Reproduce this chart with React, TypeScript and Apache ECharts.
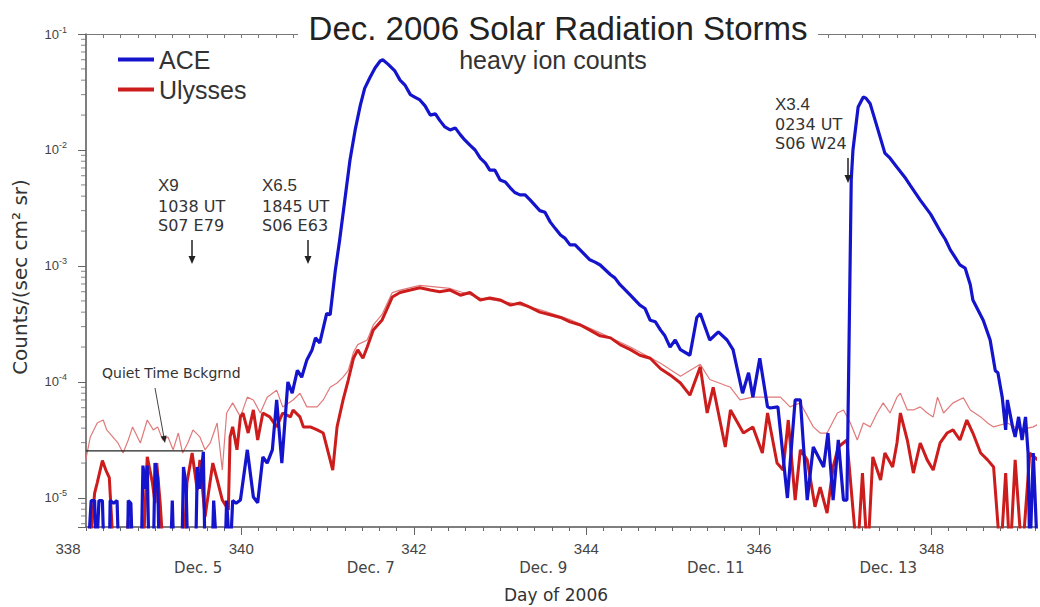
import React, { useEffect, useRef } from 'react';
import * as echarts from 'echarts';

const FONT = '"Liberation Sans", Arial, Helvetica, sans-serif';
const WIDE = '"DejaVu Sans", Verdana, sans-serif';

// ---------- data (day of 2006, counts/(sec cm^2 sr)) ----------
const aceCounts: [number, number][] = [
  [338.22, 3e-6], [338.26, 9.5e-6], [338.3, 9.5e-6], [338.32, 3e-6], [338.35, 9.5e-6], [338.39, 9.5e-6],
  [338.41, 3e-6], [338.47, 3e-6], [338.48, 9.5e-6], [338.52, 9e-6], [338.56, 9.5e-6], [338.58, 3e-6],
  [338.68, 3e-6], [338.69, 9.5e-6], [338.72, 9e-6], [338.74, 3e-6], [338.84, 3e-6], [338.86, 1.9e-5],
  [338.89, 1.2e-5], [338.91, 1.9e-5], [338.93, 3e-6], [338.98, 3e-6], [339.0, 2e-5], [339.03, 1.5e-5],
  [339.05, 3e-6], [339.18, 3e-6], [339.2, 9.5e-6], [339.22, 3e-6], [339.31, 3e-6], [339.33, 1.85e-5],
  [339.36, 1.3e-5], [339.38, 3e-6], [339.47, 3e-6], [339.49, 1.85e-5], [339.52, 1.2e-5], [339.56, 2.5e-5],
  [339.58, 3e-6], [339.66, 3e-6], [339.68, 9.5e-6], [339.72, 3e-6], [339.81, 3e-6], [339.83, 9.5e-6],
  [339.87, 3e-6], [339.9, 9.5e-6], [339.94, 9e-6],
  [339.99, 9.6e-6], [340.07, 2.6e-5], [340.14, 1.02e-5], [340.19, 9.1e-6], [340.25, 2.26e-5], [340.3, 2.0e-5],
  [340.36, 2.6e-5], [340.41, 7.0e-5], [340.47, 2.0e-5], [340.54, 1.0e-4], [340.59, 8.0e-5], [340.65, 1.26e-4],
  [340.7, 1.1e-4], [340.76, 1.55e-4], [340.82, 1.89e-4], [340.86, 2.4e-4], [340.91, 2.17e-4], [340.99, 3.9e-4],
  [341.03, 3.8e-4], [341.09, 9.2e-4], [341.14, 1.67e-3], [341.2, 3.7e-3], [341.26, 8.2e-3], [341.32, 0.0149],
  [341.38, 0.0244], [341.43, 0.034], [341.49, 0.042], [341.55, 0.051], [341.61, 0.0585], [341.64, 0.06],
  [341.7, 0.055], [341.78, 0.048], [341.84, 0.04], [341.9, 0.036], [341.96, 0.03], [342.01, 0.0286],
  [342.07, 0.027], [342.13, 0.024], [342.19, 0.02], [342.25, 0.0205], [342.3, 0.018], [342.36, 0.0158],
  [342.42, 0.0149], [342.48, 0.0155], [342.54, 0.0135], [342.59, 0.0122], [342.65, 0.011], [342.71, 0.01],
  [342.77, 0.0085], [342.83, 0.0077], [342.88, 0.0067], [342.94, 0.0067], [343.0, 0.0055], [343.06, 0.0053],
  [343.12, 0.0047], [343.17, 0.0043], [343.23, 0.0041], [343.29, 0.0041], [343.35, 0.0037], [343.46, 0.003],
  [343.52, 0.0029], [343.58, 0.0024], [343.64, 0.0021], [343.7, 0.00185], [343.75, 0.00174], [343.81, 0.00152],
  [343.87, 0.00152], [343.93, 0.00137], [344.04, 0.00113], [344.1, 0.00108], [344.16, 0.00102], [344.28, 8.4e-4],
  [344.33, 7.9e-4], [344.39, 6.9e-4], [344.51, 5.6e-4], [344.62, 4.6e-4], [344.68, 4.3e-4], [344.74, 3.4e-4],
  [344.8, 3.3e-4], [344.86, 2.8e-4], [344.91, 2.5e-4], [344.97, 2.0e-4], [345.03, 2.3e-4], [345.09, 1.9e-4],
  [345.2, 1.7e-4], [345.28, 3.6e-4], [345.32, 3.9e-4], [345.43, 2.3e-4], [345.53, 2.7e-4], [345.63, 2.3e-4],
  [345.7, 1.9e-4], [345.81, 8.0e-5], [345.88, 1.2e-4], [345.93, 7.4e-5], [346.01, 1.6e-4], [346.1, 6.1e-5],
  [346.13, 5.97e-5], [346.22, 6.1e-5], [346.33, 1.0e-5], [346.42, 7.0e-5], [346.48, 7.0e-5], [346.56, 9.6e-6],
  [346.63, 2.75e-5], [346.75, 1.85e-5], [346.8, 3.63e-5], [346.86, 9.6e-6], [346.92, 3.16e-5], [346.98, 9.6e-6],
  [347.02, 9.6e-6], [347.07, 5.5e-3], [347.09, 0.01], [347.15, 0.0235], [347.21, 0.0286], [347.24, 0.028],
  [347.29, 0.025], [347.38, 0.0149], [347.46, 0.0094], [347.52, 0.0085], [347.6, 0.0071], [347.7, 0.0057],
  [347.75, 0.005], [347.87, 0.0037], [347.99, 0.0028], [348.1, 0.002], [348.16, 0.0017], [348.22, 0.00137],
  [348.28, 0.00117], [348.33, 0.00102], [348.39, 9.6e-4], [348.45, 6.9e-4], [348.48, 5.1e-4], [348.6, 3.4e-4],
  [348.68, 2.3e-4], [348.74, 1.25e-4], [348.77, 1.2e-4], [348.82, 7.4e-5], [348.86, 3.86e-5], [348.88, 7.0e-5],
  [348.94, 4.1e-5], [348.97, 3.36e-5], [349.01, 5.0e-5], [349.05, 3.16e-5], [349.09, 5.0e-5], [349.12, 2.44e-5],
  [349.14, 3e-6], [349.18, 2.44e-5], [349.23, 3e-6],
];

const ulyssesCounts: [number, number][] = [
  [338.22, 3e-6], [338.27, 6.1e-6], [338.3, 1.1e-5], [338.33, 1.35e-5], [338.39, 2.1e-5], [338.43, 1.74e-5],
  [338.47, 1.5e-5], [338.5, 6e-6], [338.52, 3e-6], [338.66, 3e-6], [338.69, 6.5e-6], [338.72, 3e-6],
  [338.86, 3e-6], [338.91, 2.26e-5], [338.97, 1.35e-5], [339.0, 9e-6], [339.02, 2.0e-5], [339.06, 9e-6],
  [339.1, 3e-6], [339.33, 3e-6], [339.37, 1.35e-5], [339.43, 2.44e-5], [339.49, 1.17e-5], [339.52, 2.13e-5],
  [339.58, 6.9e-6], [339.67, 2.0e-5], [339.73, 1.35e-5], [339.78, 9.6e-6], [339.85, 7.9e-6], [339.87, 3.36e-5],
  [339.9, 4.1e-5], [339.95, 2.6e-5], [339.99, 5.0e-5], [340.02, 5.4e-5], [340.08, 3.63e-5], [340.14, 5.74e-5],
  [340.19, 3.16e-5], [340.25, 5.4e-5], [340.33, 5.0e-5], [340.41, 4.1e-5], [340.48, 5.4e-5], [340.57, 5.0e-5],
  [340.6, 5.74e-5], [340.68, 5.0e-5], [340.72, 4.1e-5], [340.8, 4.1e-5], [340.88, 3.86e-5], [340.95, 3.63e-5],
  [341.03, 2.13e-5], [341.06, 1.74e-5], [341.11, 4.1e-5], [341.18, 7.0e-5], [341.24, 1.04e-4], [341.3, 1.6e-4],
  [341.35, 1.89e-4], [341.41, 1.6e-4], [341.46, 2.0e-4], [341.53, 2.8e-4], [341.63, 3.4e-4], [341.75, 5.4e-4],
  [341.84, 5.9e-4], [341.96, 6.2e-4], [342.07, 6.5e-4], [342.19, 6.2e-4], [342.3, 6.0e-4], [342.42, 6.2e-4],
  [342.54, 5.6e-4], [342.65, 5.9e-4], [342.77, 5.1e-4], [342.88, 5.3e-4], [343.0, 5.1e-4], [343.12, 4.6e-4],
  [343.23, 4.8e-4], [343.35, 4.4e-4], [343.46, 4.0e-4], [343.58, 3.8e-4], [343.7, 3.6e-4], [343.81, 3.3e-4],
  [343.93, 3.1e-4], [344.04, 2.8e-4], [344.16, 2.5e-4], [344.28, 2.4e-4], [344.39, 2.1e-4], [344.51, 1.9e-4],
  [344.62, 1.7e-4], [344.74, 1.6e-4], [344.86, 1.3e-4], [344.97, 1.15e-4], [345.09, 9.8e-5], [345.2, 7.7e-5],
  [345.32, 1.35e-4], [345.4, 5.4e-5], [345.47, 9.0e-5], [345.61, 2.75e-5], [345.67, 5.74e-5], [345.82, 3.63e-5],
  [345.93, 4.1e-5], [346.04, 2.44e-5], [346.1, 5.4e-5], [346.21, 2.0e-5], [346.28, 1.74e-5], [346.34, 4.7e-5],
  [346.42, 9.6e-6], [346.48, 2.6e-5], [346.56, 2.13e-5], [346.65, 8.4e-6], [346.71, 1.24e-5], [346.79, 7.4e-6],
  [346.86, 1.85e-5], [346.92, 2.75e-5], [347.02, 3.16e-5], [347.14, 3e-6], [347.2, 1.64e-5], [347.26, 3e-6],
  [347.32, 2.26e-5], [347.41, 1.43e-5], [347.46, 2.44e-5], [347.55, 1.85e-5], [347.6, 2.98e-5], [347.64, 5.4e-5],
  [347.72, 3.16e-5], [347.79, 1.64e-5], [347.87, 2.98e-5], [347.95, 2.13e-5], [348.02, 1.74e-5], [348.1, 2.98e-5],
  [348.18, 3.63e-5], [348.25, 3.86e-5], [348.33, 3.16e-5], [348.41, 4.7e-5], [348.48, 3.63e-5], [348.57, 2.44e-5],
  [348.65, 2.13e-5], [348.72, 1.85e-5], [348.8, 3e-6], [348.86, 1.64e-5], [348.91, 3e-6], [348.97, 2.13e-5],
  [349.05, 3e-6], [349.14, 2.44e-5], [349.23, 2.13e-5],
];

const ulyssesThinCounts: [number, number][] = [
  [338.19, 2.0e-5], [338.25, 3.36e-5], [338.33, 4.43e-5], [338.4, 4.7e-5], [338.44, 3.86e-5], [338.51, 3.36e-5],
  [338.57, 2.98e-5], [338.63, 2.44e-5], [338.69, 3.16e-5], [338.74, 4.1e-5], [338.83, 2.98e-5], [338.91, 4.7e-5],
  [338.98, 3.86e-5], [339.03, 4.1e-5], [339.09, 3.16e-5], [339.15, 3.36e-5], [339.21, 2.6e-5], [339.27, 3.63e-5],
  [339.32, 2.44e-5], [339.38, 2.98e-5], [339.44, 3.86e-5], [339.52, 3.36e-5], [339.58, 2.6e-5], [339.64, 2.98e-5],
  [339.72, 4.43e-5], [339.78, 1.74e-5], [339.83, 5.4e-5], [339.9, 6.6e-5], [339.99, 5.0e-5], [340.07, 7.4e-5],
  [340.14, 7.0e-5], [340.22, 5.4e-5], [340.3, 7.4e-5], [340.41, 8.5e-5], [340.48, 6.1e-5], [340.6, 7.0e-5],
  [340.68, 8.0e-5], [340.76, 6.1e-5], [340.88, 6.1e-5], [340.95, 7.0e-5], [341.03, 9.0e-5], [341.11, 9.8e-5],
  [341.18, 1.1e-4], [341.24, 1.26e-4], [341.3, 1.8e-4], [341.35, 2.1e-4], [341.46, 2.3e-4], [341.53, 3.1e-4],
  [341.63, 3.8e-4], [341.75, 5.9e-4], [341.84, 6.2e-4], [342.07, 6.8e-4], [342.42, 6.4e-4], [342.77, 5.3e-4],
  [343.12, 4.8e-4], [343.46, 4.2e-4], [343.81, 3.45e-4], [344.16, 2.65e-4], [344.51, 2.0e-4], [344.86, 1.45e-4],
  [345.09, 1.12e-4], [345.32, 1.42e-4], [345.43, 1.05e-4], [345.67, 9.0e-5], [345.78, 7.0e-5], [345.93, 7.4e-5],
  [346.1, 7.4e-5], [346.25, 7.4e-5], [346.36, 6.1e-5], [346.48, 6.6e-5], [346.63, 4.1e-5], [346.71, 3.63e-5],
  [346.79, 3.63e-5], [346.91, 5.4e-5], [346.98, 5.74e-5], [347.06, 4.43e-5], [347.14, 3.16e-5], [347.21, 4.43e-5],
  [347.29, 4.1e-5], [347.37, 5.4e-5], [347.44, 6.6e-5], [347.52, 5.4e-5], [347.6, 7.4e-5], [347.64, 8.0e-5],
  [347.72, 5.74e-5], [347.79, 5.74e-5], [347.87, 6.1e-5], [347.95, 5.4e-5], [348.02, 5.0e-5], [348.07, 7.4e-5],
  [348.14, 5.4e-5], [348.25, 6.6e-5], [348.37, 7.3e-5], [348.45, 5.74e-5], [348.57, 5.0e-5], [348.65, 4.43e-5],
  [348.72, 4.1e-5], [348.88, 4.43e-5], [349.03, 3.86e-5], [349.18, 4.1e-5], [349.26, 4.43e-5],
];

const quietBackground: [number, number][] = [[338.2, 2.55e-5], [339.56, 2.55e-5]];

const dayTicks = [340, 342, 344, 346, 348];
const dateLabelDays = [339.5, 341.5, 343.5, 345.5, 347.5];
const dateLabels = ['Dec. 5', 'Dec. 7', 'Dec. 9', 'Dec. 11', 'Dec. 13'];
const yMinorTicks = [
  6e-6, 7e-6, 8e-6, 9e-6,
  2e-5, 3e-5, 4e-5, 5e-5, 6e-5, 7e-5, 8e-5, 9e-5,
  2e-4, 3e-4, 4e-4, 5e-4, 6e-4, 7e-4, 8e-4, 9e-4,
  2e-3, 3e-3, 4e-3, 5e-3, 6e-3, 7e-3, 8e-3, 9e-3,
  2e-2, 3e-2, 4e-2, 5e-2, 6e-2, 7e-2, 8e-2, 9e-2,
];

const X_MIN = 338.2;
const X_MAX = 349.2;
const Y_MIN = 5.62e-6;
const Y_MAX = 0.1;

const TEXT = '#333';

function txt(x: number, y: number, text: string, size: number, align = 'left', extra: any = {}) {
  return {
    type: 'text', x, y, z: 60,
    style: { text, fontSize: size, fontFamily: FONT, fill: TEXT, align, verticalAlign: 'middle', ...extra },
  };
}

function downArrow(x: number, y1: number, y2: number) {
  return [
    { type: 'line', z: 60, shape: { x1: x, y1, x2: x, y2: y2 - 6 }, style: { stroke: '#222', lineWidth: 1.5 } },
    { type: 'polygon', z: 60, shape: { points: [[x - 3.5, y2 - 8], [x + 3.5, y2 - 8], [x, y2]] }, style: { fill: '#222' } },
  ];
}

export default function App() {
  const ref = useRef<HTMLDivElement>(null);

  useEffect(() => {
    document.body.style.margin = '0';
    if (!ref.current) return;
    const chart = echarts.init(ref.current, undefined, { renderer: 'svg' });

    const lineBase = { type: 'line', showSymbol: false, symbol: 'none', clip: true, silent: true };

    const option: any = {
      animation: false,
      textStyle: { fontFamily: FONT },
      grid: { left: 86, right: 5, top: 34, bottom: 80 },
      legend: {
        data: ['ACE', 'Ulysses'],
        orient: 'vertical', left: 118, top: 47, itemGap: 5, padding: 0,
        icon: 'rect', itemWidth: 36, itemHeight: 4,
        textStyle: { fontSize: 25, color: TEXT, fontFamily: FONT },
        selectedMode: false,
      },
      xAxis: [
        {
          type: 'value', min: X_MIN, max: X_MAX, interval: 0.2, position: 'bottom',
          axisLine: { show: true, lineStyle: { color: '#555', width: 1.5 } },
          axisTick: { show: true, length: 4, lineStyle: { color: '#666' } },
          axisLabel: {
            customValues: [X_MIN, ...dayTicks], margin: 14, fontSize: 15, color: '#444', fontFamily: FONT,
            formatter: (v: number) => (Math.abs(v - X_MIN) < 1e-6 ? '{s|338}' : String(Math.round(v))),
            rich: { s: { fontSize: 15, color: '#444', fontFamily: FONT, padding: [0, 36, 0, 0] } },
          },
          splitLine: { show: false },
        },
        {
          type: 'value', min: X_MIN, max: X_MAX, position: 'bottom',
          axisLine: { show: false },
          axisTick: { show: true, customValues: dayTicks, length: 8, lineStyle: { color: '#666' } },
          axisLabel: {
            customValues: dateLabelDays, margin: 33, fontSize: 15, color: '#444', fontFamily: WIDE,
            formatter: (v: number) => {
              const i = dateLabelDays.findIndex((d) => Math.abs(d - v) < 1e-6);
              return i >= 0 ? dateLabels[i] : '';
            },
          },
          splitLine: { show: false },
        },
        {
          type: 'value', min: X_MIN, max: X_MAX, interval: 0.2, position: 'top',
          axisLine: { show: true, lineStyle: { color: '#777', width: 1 } },
          axisTick: { show: true, inside: true, length: 4, lineStyle: { color: '#777' } },
          axisLabel: { show: false },
          splitLine: { show: false },
        },
      ],
      yAxis: [
        {
          type: 'log', logBase: 10, min: Y_MIN, max: Y_MAX,
          axisLine: { show: true, lineStyle: { color: '#555', width: 1.5 } },
          axisTick: { show: true, length: 8, lineStyle: { color: '#666' } },
          axisLabel: {
            margin: 19, color: '#444', fontFamily: FONT,
            formatter: (v: number) => {
              const e = Math.log10(v);
              const r = Math.round(e);
              if (Math.abs(e - r) > 1e-4) return '';
              return `{b|10}{s|${r}}`;
            },
            rich: {
              b: { fontSize: 13, color: '#444', fontFamily: FONT, lineHeight: 18 },
              s: { fontSize: 9, color: '#444', fontFamily: FONT, verticalAlign: 'top', lineHeight: 18, padding: [0, 0, 8, 0] },
            },
          },
          splitLine: { show: false },
        },
      ],
      series: [
        {
          name: 'y minor ticks', type: 'scatter', xAxisIndex: 0, silent: true, clip: false,
          symbol: 'rect', symbolSize: [5, 1], symbolOffset: [-2.5, 0],
          itemStyle: { color: '#666' },
          data: yMinorTicks.map((v) => [X_MIN, v]),
          z: 5,
        },
        {
          ...lineBase, name: 'Ulysses (thin)', data: ulyssesThinCounts,
          lineStyle: { color: '#e07a7a', width: 1.2 }, itemStyle: { color: '#e07a7a' }, z: 2,
        },
        {
          ...lineBase, name: 'Ulysses', data: ulyssesCounts,
          lineStyle: { color: '#cc1c1c', width: 3 }, itemStyle: { color: '#cc1c1c' }, z: 3,
        },
        {
          ...lineBase, name: 'ACE', data: aceCounts,
          lineStyle: { color: '#1414cc', width: 3.2 }, itemStyle: { color: '#1414cc' }, z: 4,
        },
        {
          ...lineBase, name: 'Quiet Time Background', data: quietBackground,
          lineStyle: { color: '#222', width: 1.3 }, itemStyle: { color: '#222' }, z: 5,
        },
      ],
      graphic: [
        { type: 'rect', z: 50, shape: { x: 298, y: 10, width: 520, height: 34 }, style: { fill: '#fff' } },
        txt(558, 28, 'Dec. 2006 Solar Radiation Storms', 33, 'center', { fill: '#222' }),
        txt(553, 60, 'heavy ion counts', 25, 'center'),
        {
          type: 'text', z: 60, x: 20, y: 277, rotation: Math.PI / 2,
          style: { text: 'Counts/(sec cm² sr)', fontSize: 20, fontFamily: WIDE, fill: TEXT, align: 'center', verticalAlign: 'middle' },
        },
        txt(556, 595, 'Day of 2006', 17, 'center', { fontFamily: WIDE }),
        txt(158, 185, 'X9', 17),
        txt(158, 206, '1038 UT', 16, 'left', { fontFamily: WIDE }),
        txt(158, 225, 'S07 E79', 16, 'left', { fontFamily: WIDE }),
        ...downArrow(192, 240, 264),
        txt(262, 185, 'X6.5', 17),
        txt(262, 206, '1845 UT', 16, 'left', { fontFamily: WIDE }),
        txt(262, 225, 'S06 E63', 16, 'left', { fontFamily: WIDE }),
        ...downArrow(308, 240, 264),
        txt(775, 104, 'X3.4', 17),
        txt(775, 124, '0234 UT', 16, 'left', { fontFamily: WIDE }),
        txt(775, 143, 'S06 W24', 16, 'left', { fontFamily: WIDE }),
        ...downArrow(848, 158, 183),
        txt(102, 373, 'Quiet Time Bckgrnd', 14, 'left', { fontFamily: WIDE }),
        { type: 'line', z: 60, shape: { x1: 155, y1: 388, x2: 163.7, y2: 436 }, style: { stroke: '#444', lineWidth: 1 } },
        { type: 'polygon', z: 60, shape: { points: [[166.7, 435.6], [160.8, 436.6], [165, 443]] }, style: { fill: '#222' } },
      ],
    };

    chart.setOption(option);
    return () => chart.dispose();
  }, []);

  return <div ref={ref} style={{ width: 1040, height: 607 }} />;
}
